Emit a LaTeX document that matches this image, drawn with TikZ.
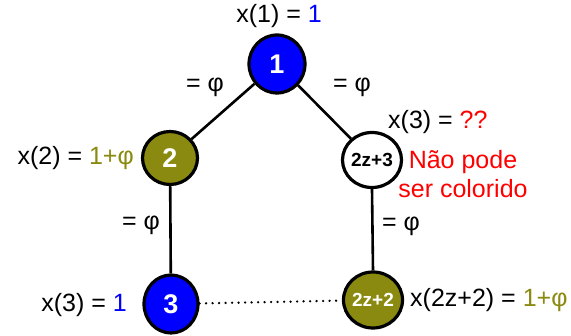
\documentclass[tikz,border=0pt]{standalone}
\usepackage{fontspec}
\setmainfont{Liberation Sans}
\usetikzlibrary{shapes.geometric}
\definecolor{olv}{RGB}{138,138,16}
\definecolor{myblue}{RGB}{0,0,255}
\definecolor{myred}{RGB}{255,0,0}
\begin{document}
\begin{tikzpicture}[x=1pt,y=-1pt,
  vert/.style={draw=black,line width=3.2pt,ellipse,inner sep=0pt},
  lbl/.style={font=\fontsize{25}{29}\selectfont,inner sep=0pt},
  big/.style={font=\fontsize{27}{27}\selectfont\bfseries,text=white},
  small/.style={font=\fontsize{19}{19}\selectfont\bfseries},
  edge/.style={line width=2.6pt}]
\useasboundingbox (0,0) rectangle (571,336);
\node[vert,fill=myblue,minimum width=56pt,minimum height=58pt,big] (n1) at (277,64) {1};
\node[vert,fill=olv,minimum width=55pt,minimum height=53pt,big] (n2) at (170,158) {2};
\node[vert,fill=white,minimum width=55pt,minimum height=55pt,small] (n23) at (372,160) {2z+3};
\node[vert,fill=myblue,minimum width=54pt,minimum height=58pt,big] (n3) at (171,304) {3};
\node[vert,fill=olv,minimum width=54pt,minimum height=56pt,small,text=white] (n22) at (373,300) {2z+2};
\draw[edge] (n1) -- (n2);
\draw[edge] (n1) -- (n23);
\draw[edge] (n2) -- (n3);
\draw[edge] (n23.south) -- (n22.north);
\draw[line width=2.6pt,line cap=round,dash pattern=on 0pt off 6.5pt] (n3) -- (n22);
\node[lbl] (t1) at (279,16) {x(1) = \textcolor{myblue}{1}};
\node[lbl] (e1) at (205,87) {= φ};
\node[lbl] (e2) at (352,87) {= φ};
\node[lbl,anchor=east] (t2) at (134,158) {x(2) = \textcolor{olv}{1+φ}};
\node[lbl,anchor=west] (t3) at (388,122) {x(3) = \textcolor{myred}{??}};
\node[lbl,text=myred,align=center] (np) at (463,174) {Não pode\\ser colorido};
\node[lbl] (e3) at (141,225) {= φ};
\node[lbl] (e4) at (401,226) {= φ};
\node[lbl,anchor=east] (t4) at (127,305) {x(3) = \textcolor{myblue}{1}};
\node[lbl,anchor=west] (t5) at (410,300) {x(2z+2) = \textcolor{olv}{1+φ}};
\end{tikzpicture}
\end{document}
